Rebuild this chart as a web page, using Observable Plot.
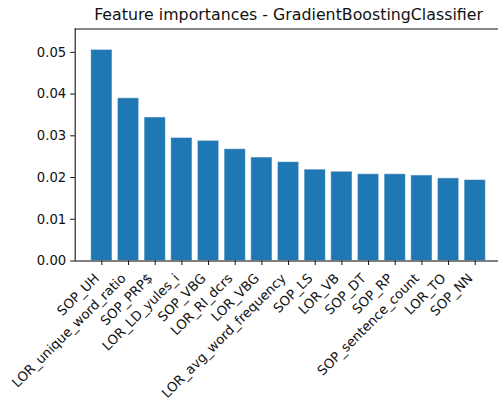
<!DOCTYPE html>
<html>
<head>
<meta charset="utf-8">
<script src="https://cdn.jsdelivr.net/npm/d3@7"></script>
<script src="https://cdn.jsdelivr.net/npm/@observablehq/plot@0.6"></script>
<style>
  html, body { margin: 0; padding: 0; background: #fff; }
  #chart svg { display: block; }
</style>
</head>
<body>
<div id="chart"></div>
<script>
const features = ["SOP_UH", "LOR_unique_word_ratio", "SOP_PRP$", "LOR_LD_yules_i", "SOP_VBG", "LOR_RI_dcrs", "LOR_VBG", "LOR_avg_word_frequency", "SOP_LS", "LOR_VB", "SOP_DT", "SOP_RP", "SOP_sentence_count", "LOR_TO", "SOP_NN"];
const importances = [0.0506, 0.0390, 0.0344, 0.0295, 0.0288, 0.0268, 0.0248, 0.0237, 0.0219, 0.0214, 0.0208, 0.0208, 0.0205, 0.0198, 0.0194];
const yTicks = [0, 0.01, 0.02, 0.03, 0.04, 0.05];
const title = "Feature importances - GradientBoostingClassifier";

const data = features.map((f, i) => ({feature: f, value: importances[i]}));

const chart = Plot.plot({
  width: 498,
  height: 402,
  marginLeft: 74.7,
  marginRight: -3.4,
  marginTop: 28.5,
  marginBottom: 141.5,
  style: {fontFamily: "DejaVu Sans", fontSize: "13px", color: "#111", background: "#fff"},
  x: {domain: features, paddingInner: 0.2, paddingOuter: 0.6, round: false, axis: null, label: null},
  y: {domain: [0, 0.0556], axis: null, label: null},
  marks: [
    Plot.barY(data, {x: "feature", y: "value", fill: "#1f77b4", stroke: "#ffffff", strokeOpacity: 0.55, strokeWidth: 1}),
    Plot.frame({anchor: "top", stroke: "#111", strokeWidth: 1.1}),
    Plot.frame({anchor: "left", stroke: "#111", strokeWidth: 1.1}),
    Plot.ruleY([0], {stroke: "#555", strokeWidth: 1.5}),
    Plot.axisY({ticks: yTicks, tickFormat: d3.format(".2f"), tickSize: 4.5, tickPadding: 4.5, fontSize: "13.2px", label: null}),
    Plot.axisX({tickSize: 4.5, text: null, label: null}),
    Plot.text(features, {x: d => d, frameAnchor: "bottom", rotate: -45, textAnchor: "end", lineAnchor: "top", dx: -8.5, dy: 11.5, fontSize: "13.2px", fill: "#111"}),
    Plot.text([title], {frameAnchor: "top", lineAnchor: "middle", dy: -13.6, fontSize: "15.8px", fill: "#111"})
  ]
});
document.getElementById("chart").appendChild(chart);
</script>
</body>
</html>
